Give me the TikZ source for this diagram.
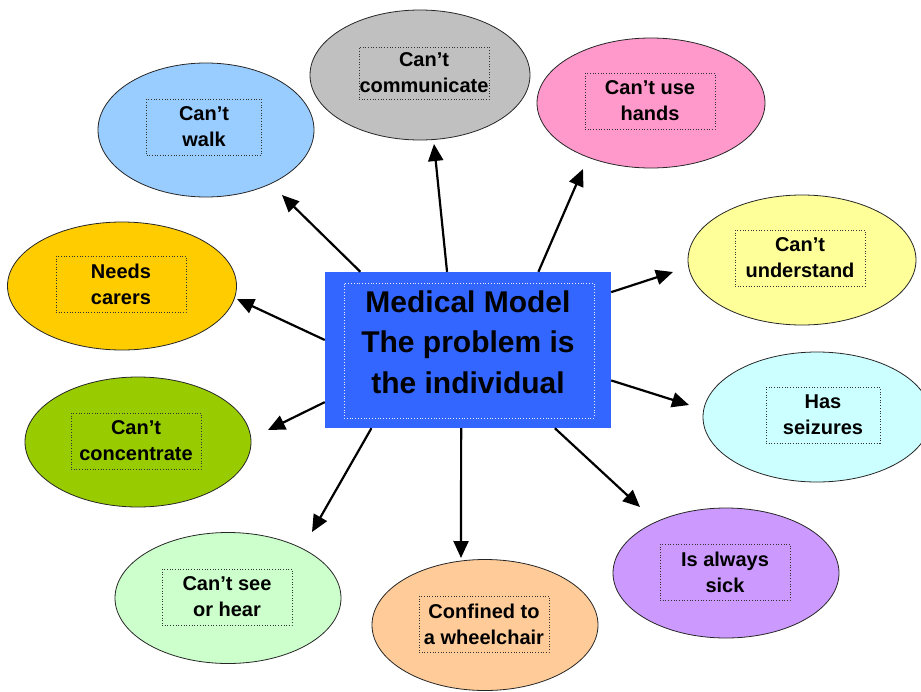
\documentclass[tikz,border=0pt]{standalone}
\usepackage{fontspec}
\setmainfont{Liberation Sans}
\usepackage{tikz}
\usetikzlibrary{arrows.meta,positioning,shapes.geometric}

\definecolor{walkc}{HTML}{99CCFF}
\definecolor{commc}{HTML}{C0C0C0}
\definecolor{handc}{HTML}{FF99CC}
\definecolor{undc}{HTML}{FFFF99}
\definecolor{seizc}{HTML}{CCFFFF}
\definecolor{sickc}{HTML}{CC99FF}
\definecolor{wheelc}{HTML}{FFCC99}
\definecolor{seec}{HTML}{CCFFCC}
\definecolor{concc}{HTML}{99CC00}
\definecolor{carec}{HTML}{FFCC00}
\definecolor{mainc}{HTML}{3366FF}

\tikzset{
  bubble/.style={ellipse, draw=black!85, line width=0.8pt, minimum width=226pt,
    minimum height=130pt, inner sep=0pt},
  tbox/.style={draw=black!80, dotted, line width=0.7pt, minimum width=130pt,
    minimum height=56pt, inner sep=0pt, align=center,
    font=\fontsize{20}{26}\selectfont\bfseries},
  arr/.style={line width=2.2pt, -{Triangle[length=17pt,width=15pt]}}
}

\begin{document}
\begin{tikzpicture}[x=1pt,y=-1pt]
    \useasboundingbox (0,0) rectangle (921,691);
    % the bubbles
    \node[bubble, fill=walkc, minimum width=216pt, minimum height=134pt] (walk) at (206,130) {};
    \node[bubble, fill=commc, minimum width=220pt] (comm) at (420,75) {};
    \node[bubble, fill=handc, minimum width=228pt] (hand) at (651,103) {};
    \node[bubble, fill=undc, minimum width=228pt] (und) at (802,260) {};
    \node[bubble, fill=seizc, minimum width=228pt] (seiz) at (817,417) {};
    \node[bubble, fill=sickc] (sick) at (726,573) {};
    \node[bubble, fill=wheelc, minimum height=131pt] (wheel) at (485,625) {};
    \node[bubble, fill=seec, minimum height=131pt] (see) at (228,598) {};
    \node[bubble, fill=concc] (conc) at (138,442) {};
    \node[bubble, fill=carec, minimum width=229pt, minimum height=128pt] (care) at (122,286) {};
    \node[tbox, minimum width=115pt] (walktxt) at (204,127) {Can’t\\walk};
    \node[tbox, minimum height=52pt] (commtxt) at (424,73) {Can’t\\communicate};
    \node[tbox] (handtxt) at (650,101) {Can’t use\\hands};
    \node[tbox] (undtxt) at (800,258) {Can’t\\understand};
    \node[tbox, minimum width=114pt] (seiztxt) at (823,415) {Has\\seizures};
    \node[tbox] (sicktxt) at (725,572) {Is always\\sick};
    \node[tbox] (wheeltxt) at (484,624) {Confined to\\a wheelchair};
    \node[tbox] (seetxt) at (227,597) {Can’t see\\or hear};
    \node[tbox] (conctxt) at (136,441) {Can’t\\concentrate};
    \node[tbox] (caretxt) at (121,284) {Needs\\carers};
    % the model in the middle
    \node[fill=mainc, minimum width=286pt, minimum height=156pt, inner sep=0pt] (mm) at (468,350) {};
    \node[draw=white!85!gray, dotted, line width=0.8pt, minimum width=250pt,
      minimum height=135pt, inner sep=0pt] (mmbox) at (469,350.5) {};
    \node[align=center, font=\fontsize{30}{40.5}\selectfont\bfseries] (mmtxt) at (468,342)
      {Medical Model\\The problem is\\the individual};
    % arrow tips
    \coordinate (twalk) at (282,195);
    \coordinate (tcomm) at (434,144);
    \coordinate (thand) at (583,169);
    \coordinate (tund) at (673,272);
    \coordinate (tseiz) at (689,405);
    \coordinate (tsick) at (640,507);
    \coordinate (twheel) at (461,558);
    \coordinate (tsee) at (312,532);
    \coordinate (tconc) at (268,430);
    \coordinate (tcare) at (237,299);
    \draw[arr] (mm.144.6) -- (twalk);
    \draw[arr] (mm.105.8) -- (tcomm);
    \draw[arr] (mm.48.5) -- (thand);
    \draw[arr] (mm.22.3) -- (tund);
    \draw[arr] (mm.-12.2) -- (tseiz);
    \draw[arr] (mm.-42.5) -- (tsick);
    \draw[arr] (mm.-95.1) -- (twheel);
    \draw[arr] (mm.219.1) -- (tsee);
    \draw[arr] (mm.200.7) -- (tconc);
    \draw[arr] (mm.176.8) -- (tcare);
\end{tikzpicture}
\end{document}
